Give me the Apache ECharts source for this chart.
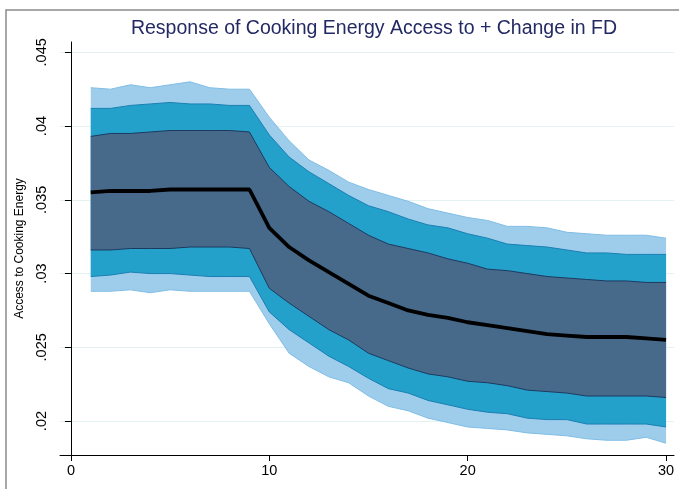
<!DOCTYPE html>
<html>
<head>
<meta charset="utf-8">
<script src="https://cdn.jsdelivr.net/npm/echarts@6/dist/echarts.min.js"></script>
<style>
  html, body { margin: 0; padding: 0; background: #fff; }
  #chart { width: 679px; height: 489px; }
</style>
</head>
<body>
<div id="chart"></div>
<script>
// horizon steps
const steps = [1,2,3,4,5,6,7,8,9,10,11,12,13,14,15,16,17,18,19,20,21,22,23,24,25,26,27,28,29,30];
// impulse response (black line)
const response = [0.0355,0.0356,0.0356,0.0356,0.0357,0.0357,0.0357,0.0357,0.0357,
  0.0331,0.0318,0.0309,0.0301,0.0293,0.0285,0.0280,0.0275,0.0272,0.0270,
  0.0267,0.0265,0.0263,0.0261,0.0259,0.0258,0.0257,0.0257,0.0257,0.0256,0.0255];
// inner band (dark)
const innerHi = [0.0393,0.0395,0.0395,0.0396,0.0397,0.0397,0.0397,0.0397,0.0396,
  0.0372,0.0359,0.0349,0.0342,0.0334,0.0326,0.0320,0.0317,0.0314,0.0310,
  0.0307,0.0303,0.0302,0.0300,0.0298,0.0297,0.0296,0.0295,0.0295,0.0294,0.0294];
const innerLo = [0.0316,0.0316,0.0317,0.0317,0.0317,0.0318,0.0318,0.0318,0.0317,
  0.0290,0.0280,0.0271,0.0262,0.0255,0.0246,0.0241,0.0236,0.0232,0.0230,
  0.0227,0.0226,0.0224,0.0221,0.0220,0.0219,0.0217,0.0217,0.0217,0.0217,0.0216];
// middle band (teal)
const midHi = [0.0412,0.0412,0.0414,0.0415,0.0416,0.0415,0.0415,0.0414,0.0414,
  0.0394,0.0379,0.0369,0.0361,0.0353,0.0346,0.0342,0.0337,0.0333,0.0331,
  0.0327,0.0324,0.0320,0.0319,0.0318,0.0316,0.0314,0.0314,0.0313,0.0313,0.0313];
const midLo = [0.0298,0.0299,0.0301,0.0300,0.0300,0.0299,0.0298,0.0298,0.0298,
  0.0274,0.0262,0.0253,0.0244,0.0237,0.0229,0.0222,0.0219,0.0214,0.0211,
  0.0208,0.0206,0.0205,0.0202,0.0201,0.0201,0.0198,0.0198,0.0198,0.0198,0.0196];
// outer band (light)
const outerHi = [0.0426,0.0425,0.0428,0.0426,0.0428,0.0430,0.0426,0.0425,0.0425,
  0.0406,0.0390,0.0377,0.0370,0.0362,0.0357,0.0353,0.0349,0.0344,0.0341,
  0.0338,0.0336,0.0332,0.0332,0.0331,0.0328,0.0327,0.0326,0.0326,0.0326,0.0324];
const outerLo = [0.0288,0.0288,0.0289,0.0287,0.0289,0.0288,0.0288,0.0288,0.0288,
  0.0266,0.0246,0.0237,0.0230,0.0226,0.0217,0.0210,0.0207,0.0202,0.0199,
  0.0196,0.0195,0.0194,0.0192,0.0191,0.0190,0.0188,0.0187,0.0187,0.0189,0.0185];
const xTicks = [0, 10, 20, 30];
const yTicks = [0.02, 0.025, 0.03, 0.035, 0.04, 0.045];

const LIGHT = '#9ecdec', TEAL = '#23a1cb', DARK = '#476a8b';

function pairs(arr) { return steps.map((s, i) => [s, arr[i]]); }

// filled band between lo and hi, drawn as one polygon through the axis scales
function band(lo, hi, color) {
  return {
    type: 'custom', silent: true, z: 2,
    data: steps.map((s, i) => [s, lo[i], hi[i]]),
    encode: { x: 0, y: [1, 2] },
    renderItem: function (params, api) {
      if (params.dataIndex !== 0) return;
      const pts = [];
      steps.forEach((s, i) => pts.push(api.coord([s, hi[i]])));
      for (let i = steps.length - 1; i >= 0; i--) pts.push(api.coord([steps[i], lo[i]]));
      return {
        type: 'polygon', shape: { points: pts },
        style: { fill: color, stroke: null }
      };
    }
  };
}
function edge(arr, color, w) {
  return {
    type: 'line', data: pairs(arr), symbol: 'none', silent: true,
    lineStyle: { color: color, width: w }, z: 3
  };
}

const chart = echarts.init(document.getElementById('chart'));
chart.setOption({
  animation: false,
  backgroundColor: '#fff',
  title: {
    text: 'Response of Cooking Energy Access to + Change in FD',
    left: 369, top: 14, textAlign: 'center',
    textStyle: { fontFamily: 'Liberation Sans, Arial', fontWeight: 'normal', fontSize: 19.5, color: '#232a63' }
  },
  graphic: [{
    type: 'rect', shape: { x: 6, y: 10, width: 700, height: 500 },
    style: { fill: 'none', stroke: '#8a8a8a', lineWidth: 1.5 }, silent: true
  }],
  grid: { left: 60, right: 5, top: 42, bottom: 34 },
  xAxis: {
    type: 'value', min: -0.55, max: 30.4,
    axisLine: { lineStyle: { color: '#000', width: 1 } },
    axisTick: { show: true, length: 6, lineStyle: { color: '#000' }, customValues: xTicks },
    axisLabel: { customValues: xTicks, color: '#000', fontSize: 14.5, margin: 8, fontFamily: 'Liberation Sans, Arial' },
    splitLine: { show: false }
  },
  yAxis: {
    type: 'value', min: 0.0177, max: 0.0457,
    name: 'Access to Cooking Energy', nameLocation: 'middle', nameGap: 32,
    nameTextStyle: { fontSize: 12, color: '#000', fontFamily: 'Liberation Sans, Arial' },
    axisLine: { show: true, lineStyle: { color: '#000', width: 1 } },
    axisTick: { show: true, length: 6, lineStyle: { color: '#000' }, customValues: yTicks },
    axisLabel: {
      customValues: yTicks, rotate: 90, color: '#000', fontSize: 14.5, margin: 11,
      fontFamily: 'Liberation Sans, Arial',
      formatter: v => String(+v.toFixed(4)).replace(/^0/, '')
    },
    splitLine: { show: true, lineStyle: { color: '#e3f1f3', width: 1 } }
  },
  series: [
    band(outerLo, outerHi, LIGHT),
    band(midLo, midHi, TEAL),
    band(innerLo, innerHi, DARK),
    edge(outerHi, '#7fbde6', 1),
    edge(outerLo, '#7fbde6', 1),
    edge(midHi, '#1a7fb2', 1),
    edge(midLo, '#1a7fb2', 1),
    edge(innerHi, '#1c3a60', 1),
    edge(innerLo, '#1c3a60', 1),
    {
      name: 'response', type: 'line', data: pairs(response), symbol: 'none',
      lineStyle: { color: '#000', width: 3.8 }, z: 4
    }
  ]
});
</script>
</body>
</html>
